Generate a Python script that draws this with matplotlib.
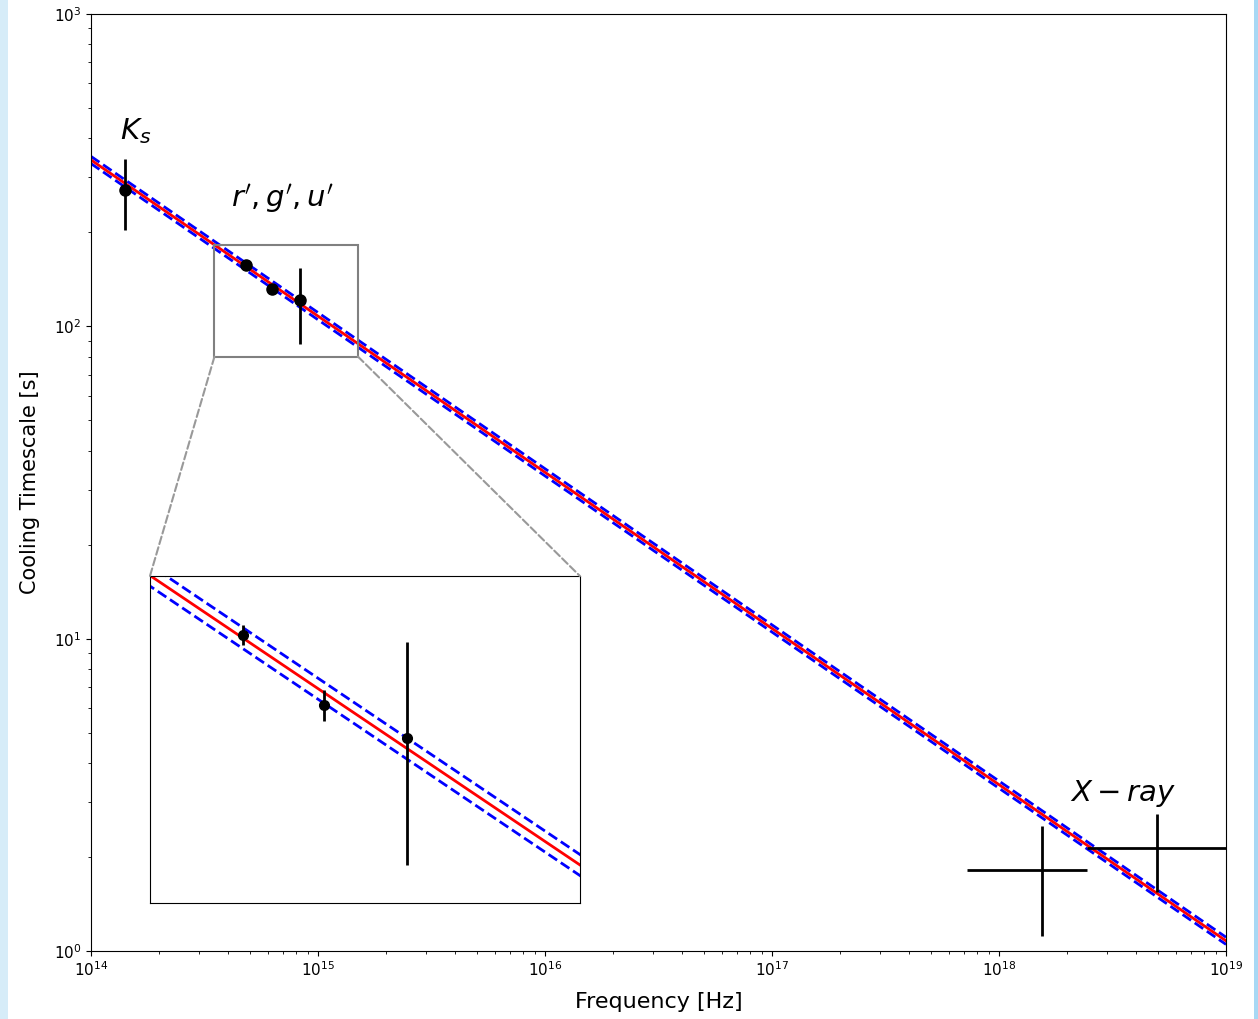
import numpy as np
import matplotlib.pyplot as plt
from matplotlib.patches import Rectangle, ConnectionPatch

# cooling timescale model (best fit and 1-sigma band)
model_nu = [1e14, 1e19]
model_tc = [341.0, 1.078]
upper_tc = [350.0, 1.107]
lower_tc = [332.0, 1.050]

# Ks band
ks_nu = [1.41e14]
ks_tc = [273.0]
ks_err = [70.0]

# r', g', u'
opt_nu = [4.8e14, 6.3e14, 8.35e14]
opt_tc = [157.0, 131.5, 121.0]
opt_err = [4.0, 5.0, 33.0]

# X-ray bins
xray_nu = [1.545e18, 4.97e18]
xray_tc = [1.817, 2.14]
xray_xlo = [0.82e18, 2.53e18]
xray_xhi = [0.90e18, 6.0e18]
xray_err = [0.70, 0.60]

fig = plt.figure(figsize=(12.58, 10.19), dpi=100)
ax = fig.add_axes([0.0723, 0.0667, 0.9023, 0.9196])


def draw_model(a):
    a.plot(model_nu, upper_tc, color='b', ls='--', lw=2)
    a.plot(model_nu, lower_tc, color='b', ls='--', lw=2)
    a.plot(model_nu, model_tc, color='r', lw=2)


draw_model(ax)
ax.errorbar(ks_nu, ks_tc, yerr=ks_err, fmt='o', color='k', ms=8, elinewidth=2)
ax.errorbar(opt_nu, opt_tc, yerr=opt_err, fmt='o', color='k', ms=8, elinewidth=2)
ax.errorbar(xray_nu, xray_tc, xerr=[xray_xlo, xray_xhi], yerr=xray_err,
            fmt='none', ecolor='k', elinewidth=2)

ax.set_xscale('log')
ax.set_yscale('log')
ax.set_xlim(1e14, 1e19)
ax.set_ylim(1, 1e3)
ax.set_xlabel('Frequency [Hz]', fontsize=16, labelpad=9)
ax.set_ylabel('Cooling Timescale [s]', fontsize=15, labelpad=10)
ax.tick_params(labelsize=11)

ax.text(1.57e14, 421, r'$K_s$', fontsize=21, ha='center', va='center')
ax.text(6.98e14, 257, r"$r', g', u'$", fontsize=21, ha='center', va='center')
ax.text(3.54e18, 3.2, r'$X-ray$', fontsize=21, ha='center', va='center')

# zoomed view of the optical points
x0, x1 = 3.5e14, 1.5e15
y0, y1 = 80.0, 182.0
axins = fig.add_axes([0.1192, 0.1138, 0.3418, 0.3209])
draw_model(axins)
axins.errorbar(opt_nu, opt_tc, yerr=opt_err, fmt='o', color='k', ms=7, elinewidth=2)
axins.set_xscale('log')
axins.set_yscale('log')
axins.set_xlim(x0, x1)
axins.set_ylim(y0, y1)
axins.set_xticks([])
axins.set_yticks([])
axins.minorticks_off()

ax.add_patch(Rectangle((x0, y0), x1 - x0, y1 - y0, fill=False,
                       edgecolor='0.5', lw=1.5, zorder=5))
con1 = ConnectionPatch(xyA=(x0, y0), coordsA=ax.transData,
                       xyB=(0, 1), coordsB=axins.transAxes,
                       color='0.6', ls='--', lw=1.5)
con2 = ConnectionPatch(xyA=(x1, y0), coordsA=ax.transData,
                       xyB=(1, 1), coordsB=axins.transAxes,
                       color='0.6', ls='--', lw=1.5)
fig.add_artist(con1)
fig.add_artist(con2)

# light blue strips at the window edges
fig.add_artist(Rectangle((0, 0), 8 / 1258, 1, transform=fig.transFigure,
                         color='#d6ecf8', lw=0))
fig.add_artist(Rectangle((1 - 4 / 1258, 0), 4 / 1258, 1, transform=fig.transFigure,
                         color='#a8d8f4', lw=0))

fig.savefig('out.png', dpi=100)
